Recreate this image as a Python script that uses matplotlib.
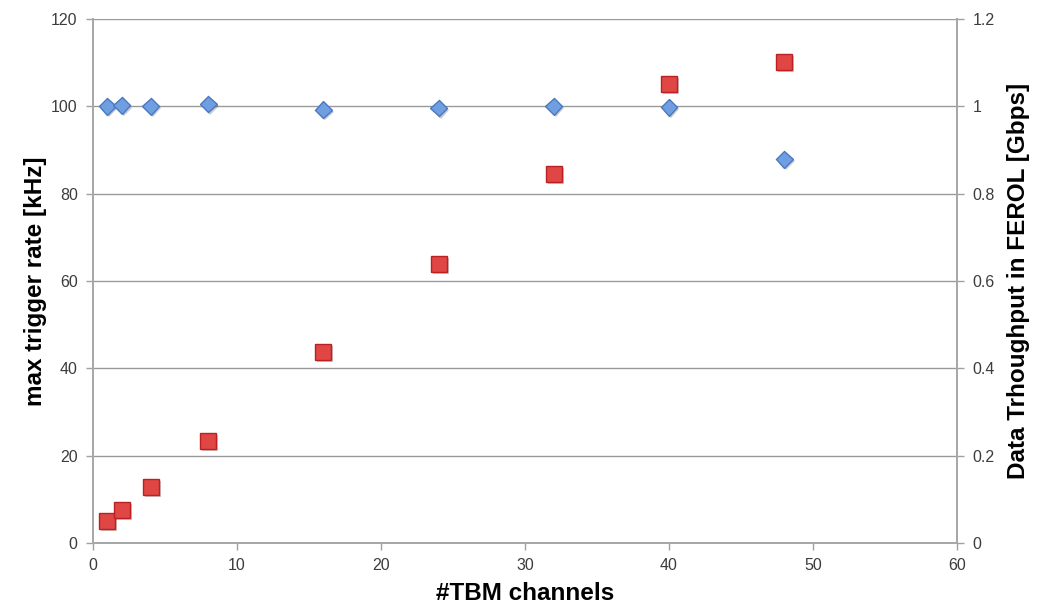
import matplotlib.pyplot as plt
import matplotlib.patheffects as pe
from matplotlib.ticker import FuncFormatter

plt.rcParams['font.family'] = ['Liberation Sans', 'DejaVu Sans']

# data
channels = [1, 2, 4, 8, 16, 24, 32, 40, 48]
trigger_rate = [100.0, 100.2, 100.0, 100.5, 99.2, 99.6, 100.0, 99.8, 87.9]   # kHz, left axis
throughput = [0.050, 0.076, 0.128, 0.234, 0.437, 0.638, 0.845, 1.051, 1.101]  # Gbps, right axis

grid_col = '#9a9a9a'
tick_col = '#3c3c3c'

fig = plt.figure(figsize=(10.52, 6.05), dpi=100)
ax = fig.add_axes([0.0884, 0.1025, 0.8213, 0.8661])
ax2 = ax.twinx()

shadow = [pe.SimplePatchShadow(offset=(1.5, -1.5), alpha=0.25), pe.Normal()]

ax.plot(channels, trigger_rate, ls='none', marker='D', ms=8.5,
        mfc='#6f9fe0', mec='#4a78c0', mew=1, zorder=3, path_effects=shadow)
ax2.plot(channels, throughput, ls='none', marker='s', ms=11.5,
         mfc='#e04644', mec='#b82222', mew=1, zorder=3, path_effects=shadow)

ax.set_xlim(0, 60)
ax.set_ylim(0, 120)
ax2.set_ylim(0, 1.2)
ax.set_xticks(range(0, 61, 10))
ax.set_yticks(range(0, 121, 20))
ax2.set_yticks([0, 0.2, 0.4, 0.6, 0.8, 1.0, 1.2])
ax2.yaxis.set_major_formatter(FuncFormatter(lambda v, p: '{:g}'.format(round(v, 1))))

ax.grid(axis='y', color=grid_col, lw=1)
ax.set_axisbelow(True)

for a in (ax, ax2):
    for s in a.spines.values():
        s.set_color('#a8a8a8')
        s.set_linewidth(1.4)
    a.spines['top'].set_visible(False)
    a.tick_params(direction='out', length=5, width=1, color='#a0a0a0',
                  labelcolor=tick_col, labelsize=11.5, pad=6)

ax.set_xlabel('#TBM channels', fontsize=17.5, fontweight='bold', labelpad=6)
ax.set_ylabel('max trigger rate [kHz]', fontsize=17.5, fontweight='bold')
ax2.set_ylabel('Data Trhoughput in FEROL [Gbps]', fontsize=17.5, fontweight='bold')
ax.yaxis.set_label_coords(-0.067, 0.5)
ax2.yaxis.set_label_coords(1.0706, 0.5)
ax.yaxis.label.set_va('center')
ax2.yaxis.label.set_va('center')

fig.savefig('out.png', dpi=100)
